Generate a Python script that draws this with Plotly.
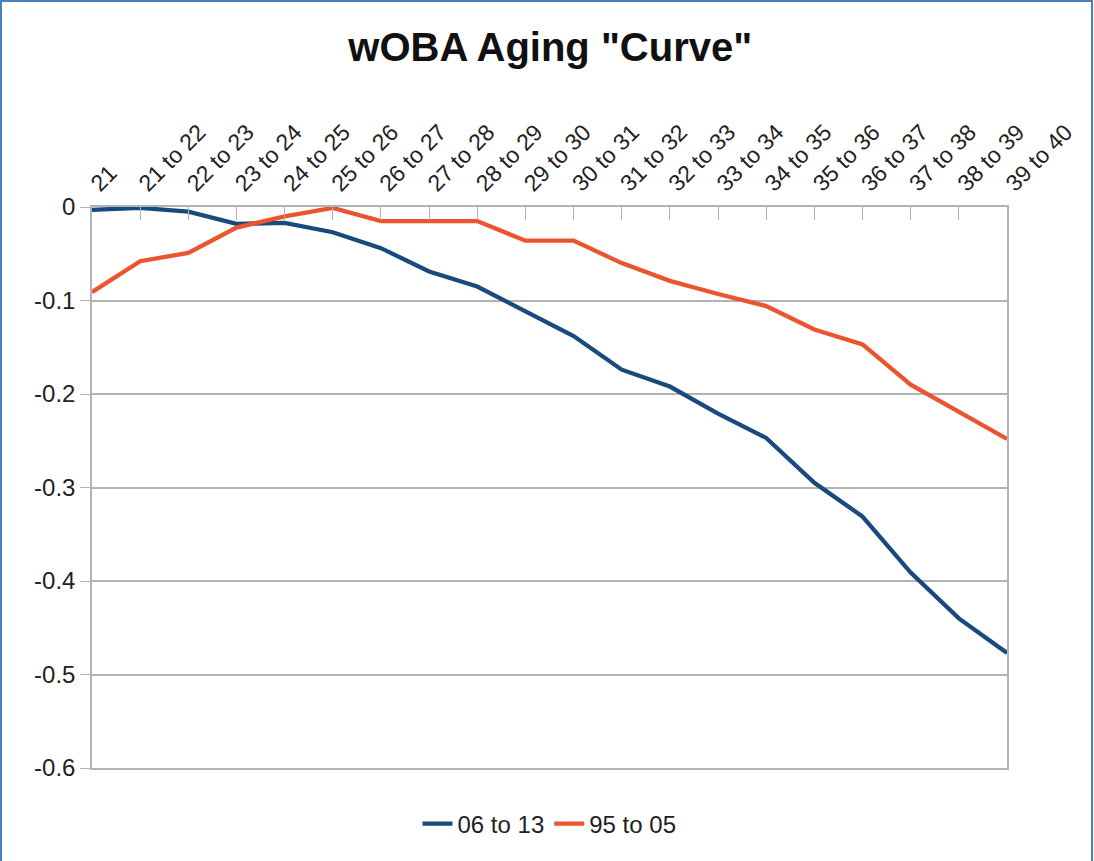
import plotly.graph_objects as go

# Age brackets along the top axis
ages = ["21", "21 to 22", "22 to 23", "23 to 24", "24 to 25", "25 to 26",
        "26 to 27", "27 to 28", "28 to 29", "29 to 30", "30 to 31", "31 to 32",
        "32 to 33", "33 to 34", "34 to 35", "35 to 36", "36 to 37", "37 to 38",
        "38 to 39", "39 to 40"]

# cumulative wOBA change
woba_06_13 = [-0.003, -0.001, -0.005, -0.018, -0.017, -0.027, -0.044, -0.069,
              -0.085, -0.112, -0.138, -0.174, -0.192, -0.221, -0.247, -0.295,
              -0.331, -0.391, -0.440, -0.477]
woba_95_05 = [-0.091, -0.058, -0.049, -0.022, -0.010, -0.001, -0.015, -0.015,
              -0.015, -0.036, -0.036, -0.060, -0.079, -0.093, -0.106, -0.131,
              -0.147, -0.190, -0.219, -0.248]

y_ticks = [0, -0.1, -0.2, -0.3, -0.4, -0.5, -0.6]
y_labels = ["0", "-0.1", "-0.2", "-0.3", "-0.4", "-0.5", "-0.6"]

W, H = 1094, 861
ML, MR, MT, MB = 92, 87, 207, 93
pw, ph = W - ML - MR, H - MT - MB

fig = go.Figure()
fig.add_trace(go.Scatter(x=ages, y=woba_06_13, mode="lines", name="06 to 13",
                         line=dict(color="#184a7e", width=4.3), cliponaxis=False))
fig.add_trace(go.Scatter(x=ages, y=woba_95_05, mode="lines", name="95 to 05",
                         line=dict(color="#ea5530", width=4.3), cliponaxis=False))

# blue frame around the whole picture (bottom edge falls off the canvas)
fig.add_shape(type="rect", xref="paper", yref="paper",
              x0=(1 - ML) / pw, x1=(W - 2 - ML) / pw,
              y0=(MB - H - 5) / ph, y1=(H - 1 - MB) / ph,
              line=dict(color="#4a7ebb", width=2))

fig.update_layout(
    width=W, height=H,
    margin=dict(l=ML, r=MR, t=MT, b=MB),
    paper_bgcolor="white", plot_bgcolor="white",
    font=dict(family="Liberation Sans", size=24, color="#222222"),
    title=dict(text='<b>wOBA Aging "Curve"</b>', x=0.503, xanchor="center",
               y=1 - 47 / H, yanchor="middle", yref="container",
               font=dict(size=40, color="#111111")),
    showlegend=True,
    legend=dict(orientation="h", x=0.5, xanchor="center", y=-0.1, yanchor="middle",
                font=dict(size=24, color="#222222"), itemwidth=30),
    xaxis=dict(type="category", side="top", range=[0, len(ages) - 1],
               tickangle=-45, ticks="inside", ticklen=13, tickcolor="#b3b3b3",
               showline=True, linecolor="#b3b3b3", linewidth=1.5, mirror=True,
               showgrid=False, zeroline=False, tickfont=dict(size=23)),
    yaxis=dict(range=[-0.6, 0], tickvals=y_ticks, ticktext=y_labels,
               ticks="outside", ticklen=10, tickcolor="#b3b3b3",
               showline=True, linecolor="#b3b3b3", linewidth=1.5, mirror=True,
               showgrid=True, gridcolor="#b3b3b3", gridwidth=1.5, zeroline=False,
               tickfont=dict(size=24)),
)

# drop the page's default body margin so the figure sits at the window corner
fig.write_html("out.html", config={"displayModeBar": False},
               post_script="document.body.style.margin = '0px';")
